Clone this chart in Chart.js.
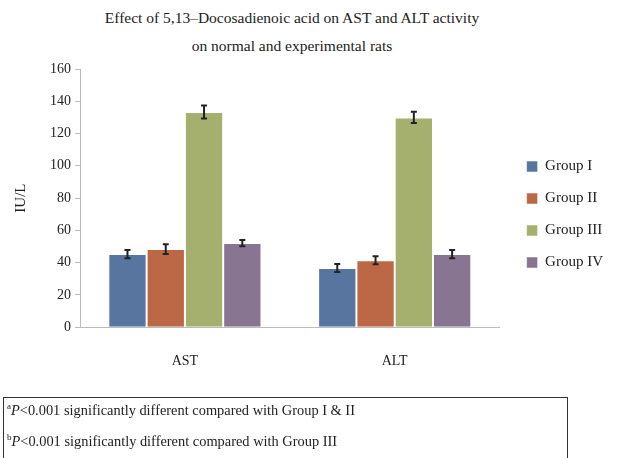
<!DOCTYPE html>
<html>
<head>
<meta charset="utf-8">
<script src="https://cdn.jsdelivr.net/npm/chart.js@4"></script>
<style>
  body { margin: 0; background: #fff; width: 620px; height: 458px; overflow: hidden; position: relative; font-family: "Liberation Serif", serif; color: #222; }
  #title { position: absolute; left: 0; width: 584px; top: 4px; text-align: center; font-size: 15.5px; line-height: 28px; }
  #wrap { position: absolute; left: 0; top: 0; width: 620px; height: 398px; }
  #notes { position: absolute; left: 3px; top: 397px; width: 563px; height: 80px; border: 1px solid #333; font-size: 14.4px; }
  #notes div { position: absolute; left: 3px; white-space: nowrap; }
  #notes sup { font-size: 9px; vertical-align: 6px; }
</style>
</head>
<body>
<div id="title">Effect of 5,13–Docosadienoic acid on AST and ALT activity<br>on normal and experimental rats</div>
<div id="wrap"><canvas id="chart" width="620" height="398"></canvas></div>
<div id="notes">
  <div style="top:3px"><sup>a</sup><i>P</i>&lt;0.001 significantly different compared with Group I &amp; II</div>
  <div style="top:34px"><sup>b</sup><i>P</i>&lt;0.001 significantly different compared with Group III</div>
</div>
<script>
document.addEventListener('DOMContentLoaded', function () {

  const categories = ['AST', 'ALT'];
  const groups = ['Group I', 'Group II', 'Group III', 'Group IV'];
  const colors = ['#5875a0', '#bc6745', '#a5b06e', '#877591'];

  // mean values per group (AST, ALT)
  const groupI = [45.3, 36.7];
  const groupII = [48.4, 41.5];
  const groupIII = [133.4, 130];
  const groupIV = [52.1, 45.3];

  // error (+/-) per group
  const errI = [2.5, 2.5];
  const errII = [3, 2.5];
  const errIII = [4, 3.5];
  const errIV = [2, 2.5];

  const yTicks = [0, 20, 40, 60, 80, 100, 120, 140, 160];

  const values = [groupI, groupII, groupIII, groupIV];
  const errors = [errI, errII, errIII, errIV];

  // draws the error bars using the chart scales
  const errorBars = {
    id: 'errorBars',
    afterDatasetsDraw(chart) {
      const ctx = chart.ctx;
      const yScale = chart.scales.y;
      ctx.save();
      ctx.strokeStyle = '#222';
      ctx.lineWidth = 2;
      chart.data.datasets.forEach((ds, i) => {
        const meta = chart.getDatasetMeta(i);
        meta.data.forEach((bar, j) => {
          const v = ds.data[j];
          const e = errors[i][j];
          const top = yScale.getPixelForValue(v + e);
          const bot = yScale.getPixelForValue(v - e);
          ctx.beginPath();
          ctx.moveTo(bar.x, top);
          ctx.lineTo(bar.x, bot);
          ctx.moveTo(bar.x - 3, top);
          ctx.lineTo(bar.x + 3, top);
          ctx.moveTo(bar.x - 3, bot);
          ctx.lineTo(bar.x + 3, bot);
          ctx.stroke();
        });
      });
      ctx.restore();
    }
  };

  // nudge the legend box a little so it sits where the original one does
  const legendNudge = {
    id: 'legendNudge',
    afterLayout(chart) {
      const lg = chart.legend;
      lg.top -= 14; lg.bottom -= 14;
      lg.left += 10; lg.right += 10;
    }
  };

  const datasets = groups.map((g, i) => ({
    label: g,
    data: values[i],
    backgroundColor: colors[i],
    borderColor: 'rgba(255,255,255,0.5)',
    borderWidth: 1,
    categoryPercentage: 0.73,
    barPercentage: 1
  }));

  new Chart(document.getElementById('chart').getContext('2d'), {
    type: 'bar',
    data: { labels: categories, datasets: datasets },
    plugins: [errorBars, legendNudge],
    options: {
      responsive: false,
      animation: false,
      layout: { padding: { top: 69, left: 8, right: 17, bottom: 10 } },
      plugins: {
        title: { display: false },
        tooltip: { enabled: false },
        legend: {
          position: 'right',
          labels: {
            boxWidth: 11,
            boxHeight: 11,
            padding: 17,
            color: '#222',
            font: { family: '"Liberation Serif", serif', size: 15 }
          }
        }
      },
      scales: {
        x: {
          grid: { display: false },
          border: { color: '#bbb' },
          ticks: { color: '#222', padding: 18, font: { family: '"Liberation Serif", serif', size: 14 } }
        },
        y: {
          min: 0,
          max: 160,
          afterBuildTicks: axis => { axis.ticks = yTicks.map(v => ({ value: v })); },
          grid: { drawOnChartArea: false, tickLength: 5, color: '#bbb' },
          border: { color: '#bbb' },
          ticks: { color: '#222', padding: 4, font: { family: '"Liberation Serif", serif', size: 14 } },
          title: { display: true, text: 'IU/L', color: '#222', padding: { top: 4, bottom: 16 }, font: { family: '"Liberation Serif", serif', size: 15 } }
        }
      }
    }
  });
});
</script>
</body>
</html>
